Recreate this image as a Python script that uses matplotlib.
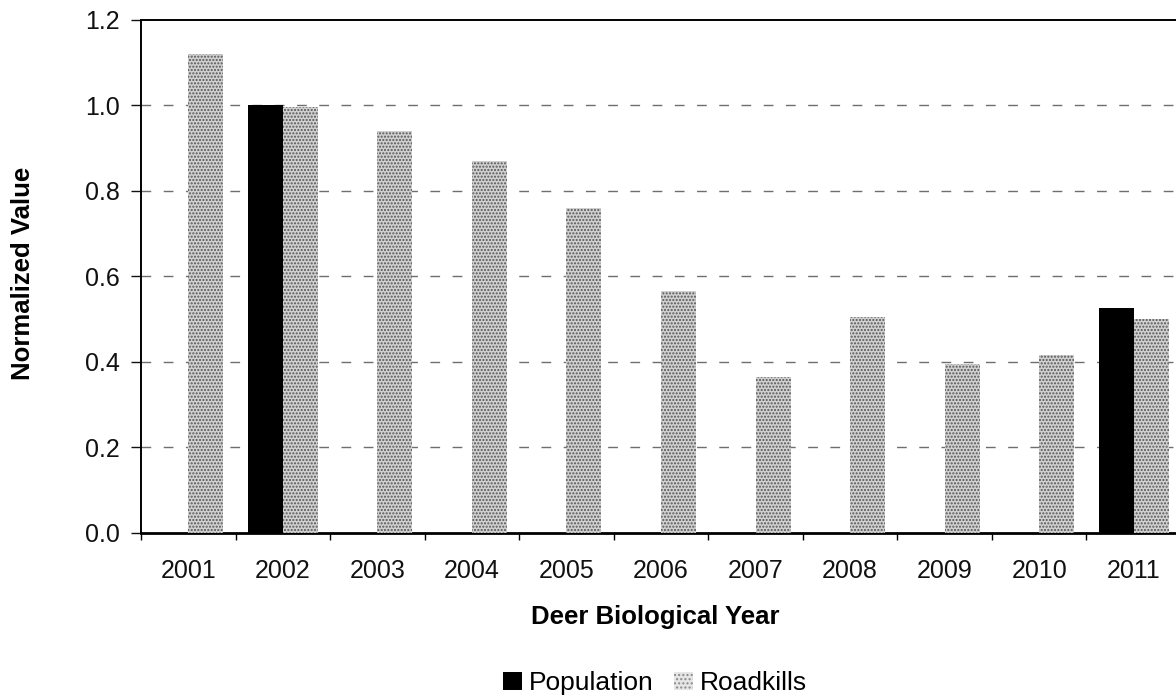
import numpy as np
import matplotlib
matplotlib.use("Agg")
import matplotlib.pyplot as plt
from matplotlib.patches import Patch

years = ["2001", "2002", "2003", "2004", "2005", "2006",
         "2007", "2008", "2009", "2010", "2011"]
population = [np.nan, 1.0, np.nan, np.nan, np.nan, np.nan,
              np.nan, np.nan, np.nan, np.nan, 0.525]
roadkills = [1.12, 0.995, 0.94, 0.87, 0.76, 0.565,
             0.365, 0.505, 0.395, 0.415, 0.50]
y_ticks = [0.0, 0.2, 0.4, 0.6, 0.8, 1.0, 1.2]

plt.rcParams["font.family"] = ["Liberation Sans", "DejaVu Sans"]
plt.rcParams["hatch.linewidth"] = 1.0

W, H = 1176, 700
fig = plt.figure(figsize=(W / 100, H / 100), dpi=100)
left, right, top, bottom = 141, 1181, 19.5, 533
ax = fig.add_axes([left / W, 1 - bottom / H, (right - left) / W, (bottom - top) / H])

x = np.arange(len(years))
bw = 0.37
ax.bar(x - bw / 2, population, width=bw, color="black", linewidth=0, zorder=3)
ax.bar(x + bw / 2, roadkills, width=bw, facecolor="#d0d0d0", edgecolor="#555555",
       hatch=".....", linewidth=0, zorder=3)

ax.set_xlim(-0.5, len(years) - 0.5)
ax.set_ylim(0, 1.2)
ax.set_yticks(y_ticks)
ax.set_yticklabels([f"{v:.1f}" for v in y_ticks])
ax.set_xticks(x)
ax.set_xticklabels(years)
ax.set_xticks(np.arange(len(years) + 1) - 0.5, minor=True)

ax.tick_params(axis="y", direction="out", length=7, width=1, pad=8,
               labelsize=18, colors="#111111")
ax.tick_params(axis="x", which="major", length=0, pad=19, labelsize=18,
               colors="#111111")
ax.tick_params(axis="x", which="minor", direction="out", length=5, width=1)

for v in y_ticks[1:-1]:
    ax.axhline(v, color="#6e6e6e", lw=1.0, ls=(0, (7, 9)), zorder=1)

ax.spines["right"].set_visible(False)
ax.spines["top"].set_linewidth(1.4)
ax.spines["left"].set_linewidth(1.4)
ax.spines["bottom"].set_linewidth(2.0)
for s in ax.spines.values():
    s.set_color("black")

fig.text(655 / W, 1 - 617 / H, "Deer Biological Year", ha="center", va="center",
         fontsize=18.5, fontweight="bold")
fig.text(23 / W, 1 - 273 / H, "Normalized Value", ha="center", va="center",
         rotation=90, fontsize=18.5, fontweight="bold")

handles = [Patch(facecolor="black", edgecolor="black", linewidth=0),
           Patch(facecolor="#e6e6e6", edgecolor="#8a8a8a", hatch="....", linewidth=0)]
fig.legend(handles, ["Population", "Roadkills"], loc="center",
           bbox_to_anchor=(655 / W, 1 - 683 / H), ncol=2, frameon=False,
           fontsize=19, handlelength=0.7, handleheight=0.7, handletextpad=0.25,
           columnspacing=0.8)

fig.savefig("out.png", dpi=100)
